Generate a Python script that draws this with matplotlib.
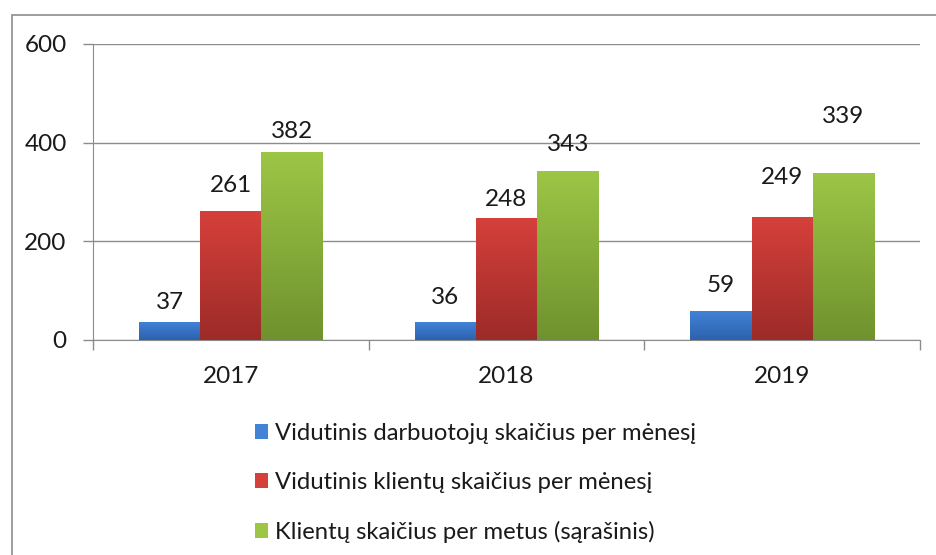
import numpy as np
import matplotlib.pyplot as plt
from matplotlib.colors import LinearSegmentedColormap
from matplotlib.patches import Rectangle

years = ["2017", "2018", "2019"]
workers = [37, 36, 59]
clients_month = [261, 248, 249]
clients_year = [382, 343, 339]
series_names = [
    "Vidutinis darbuotojų skaičius per mėnesį",
    "Vidutinis klientų skaičius per mėnesį",
    "Klientų skaičius per metus (sąrašinis)",
]
y_ticks = [0, 200, 400, 600]

# label offsets above bar top, in pixels (hand-placed in the original)
label_offsets = [
    [19, 26, 20],
    [25, 18, 26],
    [25, 40, 56],
]

# (top colour, bottom colour) for the bar gradients
grads = [("#4283d8", "#2c62ad"), ("#d6403b", "#9c2b28"), ("#9dc646", "#6f922e")]

plt.rcParams["font.family"] = ["Lato", "DejaVu Sans"]
FS = 17.5

fig = plt.figure(figsize=(9.37, 5.55), dpi=100)
fig.patches.append(Rectangle((12 / 937, -0.1), 1.2, 1.1 - 15 / 555, transform=fig.transFigure,
                             fill=False, edgecolor="#8c8c8c", linewidth=1.2))
ax = fig.add_axes([93 / 937, 215 / 555, 827 / 937, 296 / 555])

x = np.arange(len(years))
width = 0.222
all_series = [workers, clients_month, clients_year]
handles = []
for i, vals in enumerate(all_series):
    bars = ax.bar(x + (i - 1) * width, vals, width, color=grads[i][0], linewidth=0, zorder=3)
    cmap = LinearSegmentedColormap.from_list("g%d" % i, [grads[i][1], grads[i][0]])
    grad = np.linspace(0, 1, 256).reshape(-1, 1)
    for b in bars:
        bx, by = b.get_x(), b.get_y()
        bw, bh = b.get_width(), b.get_height()
        im = ax.imshow(grad, extent=[bx, bx + bw, by, by + bh], origin="lower",
                       cmap=cmap, aspect="auto", zorder=4)
        im.set_clip_path(b)
    handles.append(bars)
    for j, b in enumerate(bars):
        ax.annotate(str(vals[j]), (b.get_x() + b.get_width() / 2, b.get_height()),
                    xytext=(0, label_offsets[j][i] * 0.72), textcoords="offset points",
                    ha="center", va="center", fontsize=FS, color="#1a1a1a", zorder=5)

ax.set_xlim(-0.5, 2.5)
ax.set_ylim(0, 600)
ax.set_yticks(y_ticks)
ax.set_yticklabels([str(t) for t in y_ticks], fontsize=FS, color="#1a1a1a")
ax.set_xticks(x)
ax.set_xticklabels(years, fontsize=FS, color="#1a1a1a")
ax.tick_params(axis="x", length=0, pad=18.5)
ax.tick_params(axis="y", length=7, width=1, color="#8c8c8c", pad=12)
ax.set_xticks([-0.5, 0.5, 1.5, 2.5], minor=True)
ax.tick_params(axis="x", which="minor", length=7, width=1, color="#8c8c8c")
ax.grid(axis="y", color="#8c8c8c", linewidth=1, zorder=0)
ax.set_axisbelow(True)
for s in ["top", "right"]:
    ax.spines[s].set_visible(False)
ax.spines["left"].set_color("#8c8c8c")
ax.spines["bottom"].set_color("#8c8c8c")

fig.legend(handles, series_names, loc="upper left", bbox_to_anchor=(255 / 937, 1 - 423 / 555),
           frameon=False, fontsize=17.2, handlelength=0.55, handleheight=0.55, handletextpad=0.3,
           labelspacing=1.17, borderpad=0, borderaxespad=0, labelcolor="#1a1a1a")

fig.savefig("out.png", dpi=100)
